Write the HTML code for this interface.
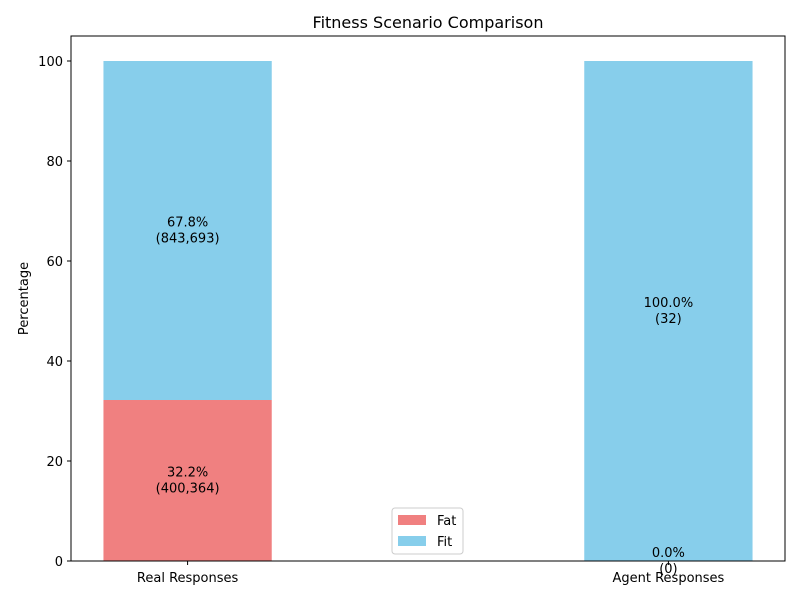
<!DOCTYPE html>
<html><head><meta charset="utf-8"><style>
body{margin:0;background:#fff;font-family:"DejaVu Sans","Liberation Sans",sans-serif;}
</style></head><body>
<svg id="chart" width="800" height="600" xmlns="http://www.w3.org/2000/svg"></svg>
<script>
const categories = ["Real Responses", "Agent Responses"];
const fatValues = [32.2, 0.0];
const fitValues = [67.8, 100.0];
const fatCounts = ["400,364", "0"];
const fitCounts = ["843,693", "32"];
const yTicks = [0, 20, 40, 60, 80, 100];

const NS = "http://www.w3.org/2000/svg";
const svg = document.getElementById("chart");
const L = 71, R = 785, T = 36, B = 561;
const xMin = -0.2425, xMax = 1.2425, barW = 0.35;
const xs = v => L + (v - xMin) / (xMax - xMin) * (R - L);
const ys = v => B - v / 105 * (B - T) ;
function el(tag, attrs, text) {
  const e = document.createElementNS(NS, tag);
  for (const k in attrs) e.setAttribute(k, attrs[k]);
  if (text !== undefined) e.textContent = text;
  svg.appendChild(e);
  return e;
}
// y scale: 100 at y=61 -> ys(100)=561-100*5=61
const t = el("text", {x: 428, y: 28, "text-anchor": "middle", "font-size": 16, fill: "#000"}, "Fitness Scenario Comparison");



categories.forEach((c, i) => {
  const x0 = xs(i - barW / 2), w = xs(i + barW / 2) - x0;
  const fatTop = ys(fatValues[i]), fitTop = ys(fatValues[i] + fitValues[i]);
  const r1 = el("rect", {x: x0, y: fatTop, width: w, height: B - fatTop, fill: "#f08080"});
  
  
  const r2 = el("rect", {x: x0, y: fitTop, width: w, height: fatTop - fitTop, fill: "#87ceeb"});
  
  
  const cx = xs(i);
  const fm = ys(fatValues[i] / 2), tm = ys(fatValues[i] + fitValues[i] / 2);
  [[fm, fatValues[i], fatCounts[i], 'fat'], [tm, fitValues[i], fitCounts[i], 'fit']].forEach(([my, v, n, s]) => {
    const a = el("text", {x: cx, y: my - 4, "text-anchor": "middle", "font-size": 13}, v.toFixed(1) + "%");
    
    
    const b = el("text", {x: cx, y: my + 12, "text-anchor": "middle", "font-size": 13}, "(" + n + ")");
    
    
  });
  el("line", {x1: cx, x2: cx, y1: B, y2: B + 4, stroke: "#000"});
  const xl = el("text", {x: cx, y: B + 21, "text-anchor": "middle", "font-size": 13}, c);
  
  
});

yTicks.forEach(v => {
  const y = ys(v);
  el("line", {x1: L - 4, x2: L, y1: y, y2: y, stroke: "#000"});
  const l = el("text", {x: L - 8, y: y + 5, "text-anchor": "end", "font-size": 13}, v);
  
  
});
const frame = el("rect", {x: L, y: T, width: R - L, height: B - T, fill: "none", stroke: "#000", "stroke-width": 1});


const yt = el("text", {x: 28, y: (T + B) / 2, "text-anchor": "middle", "font-size": 13, transform: "rotate(-90 28 " + (T + B) / 2 + ")"}, "Percentage");



const lg = el("rect", {x: 392, y: 508, width: 71, height: 46, fill: "#fff", stroke: "#ccc", rx: 3});


[["Fat", "#f08080", 520], ["Fit", "#87ceeb", 541]].forEach(([n, c, y]) => {
  el("rect", {x: 398, y: y - 5, width: 28, height: 10, fill: c});
  const lt = el("text", {x: 437, y: y + 5, "font-size": 13}, n);
  
  
});
</script>
</body></html>
